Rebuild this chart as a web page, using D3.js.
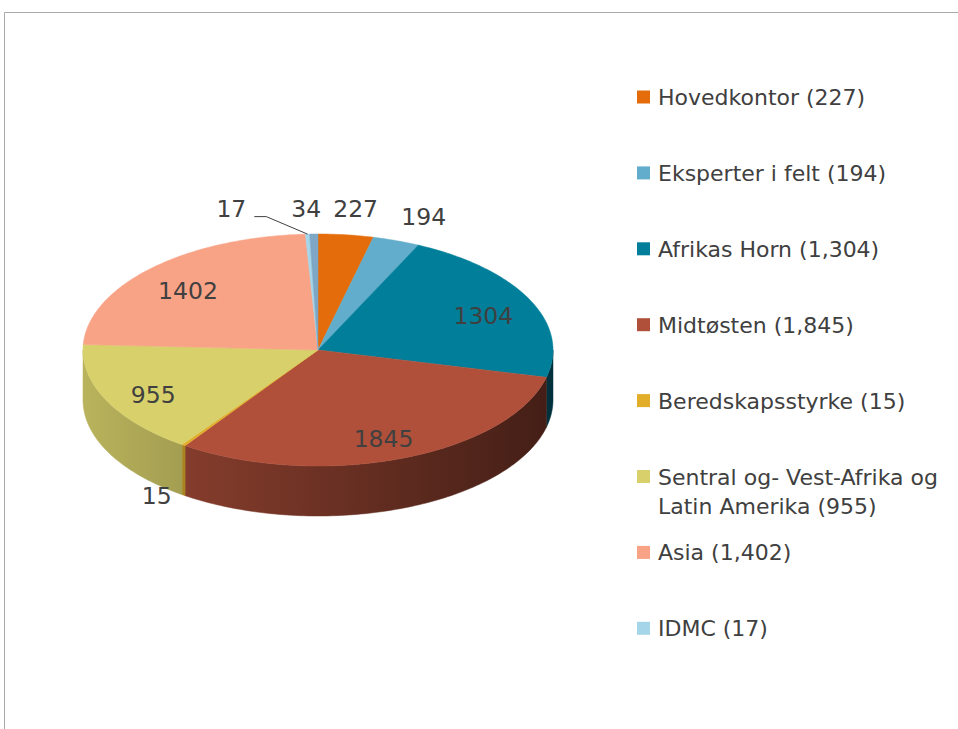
<!DOCTYPE html>
<html>
<head>
<meta charset="utf-8">
<script src="https://cdn.jsdelivr.net/npm/d3@7"></script>
<style>
  body { margin: 0; background: #fff; }
  text { font-family: "DejaVu Sans", sans-serif; fill: #404040; }
</style>
</head>
<body>
<div id="chart"></div>
<script>
// Slices, clockwise from 12 o'clock (the last slice has no legend entry)
const categories = ["Hovedkontor", "Eksperter i felt", "Afrikas Horn", "Midtøsten", "Beredskapsstyrke",
  "Sentral og- Vest-Afrika og Latin Amerika", "Asia", "IDMC", ""];
const values = [227, 194, 1304, 1845, 15, 955, 1402, 17, 34];
const colors = ["#e46c0a", "#62adcb", "#017f9a", "#b0503a", "#e2ae2a", "#d7d06b", "#f9a386", "#a5d5e8", "#7da7c4"];

const W = 958, H = 729;
const cx = 318, cy = 350, rx = 235, ry = 116, depth = 50;

const svg = d3.select("#chart").append("svg")
  .attr("width", W)
  .attr("height", H);

// frame (only top and left edges are inside the picture)
svg.append("path")
  .attr("d", `M4.5,${H} V12.5 H${W}`)
  .attr("fill", "none")
  .attr("stroke", "#a9a9a9");

const data = categories.map((c, i) => ({ name: c, value: values[i], color: colors[i] }));
const total = d3.sum(values);
const arcs = d3.pie().sort(null).value(d => d.value)
  .startAngle(0).endAngle(2 * Math.PI)(data);

// point on the tilted ellipse, angle clockwise from top
const pt = (a, k = 1, dy = 0) => [cx + rx * k * Math.sin(a), cy - ry * k * Math.cos(a) + dy];
function arcPoints(a0, a1, dy = 0) {
  const n = Math.max(2, Math.ceil((a1 - a0) / (Math.PI / 180)) + 1);
  return d3.range(n).map(i => pt(a0 + (a1 - a0) * i / (n - 1), 1, dy));
}
const line = d3.line();

// side shading: lighter on the left, darker on the right
const defs = svg.append("defs");
arcs.forEach((d, i) => {
  const base = d3.rgb(d.data.color);
  const g = defs.append("linearGradient")
    .attr("id", "side" + i)
    .attr("gradientUnits", "userSpaceOnUse")
    .attr("x1", cx - rx).attr("x2", cx + rx)
    .attr("y1", 0).attr("y2", 0);
  [[0, 0.86], [1, 0.38]].forEach(([o, k]) => {
    g.append("stop")
      .attr("offset", o)
      .attr("stop-color", d3.rgb(base.r * k, base.g * k, base.b * k).formatHex());
  });
});

// side walls (front half only)
svg.append("g").selectAll("path")
  .data(arcs)
  .enter()
  .append("path")
  .attr("d", d => {
    const s = Math.max(d.startAngle, Math.PI / 2), e = Math.min(d.endAngle, 3 * Math.PI / 2);
    if (s >= e) return null;
    return line([...arcPoints(s, e), ...arcPoints(s, e, depth).reverse()]) + "Z";
  })
  .attr("fill", (d, i) => `url(#side${i})`)
  .attr("stroke", (d, i) => `url(#side${i})`)
  .attr("stroke-width", 0.5);

// top faces
svg.append("g").selectAll("path")
  .data(arcs)
  .enter()
  .append("path")
  .attr("d", d => line([[cx, cy], ...arcPoints(d.startAngle, d.endAngle)]) + "Z")
  .attr("fill", d => d.data.color)
  .attr("stroke", d => d.data.color)
  .attr("stroke-width", 0.5);

// data labels
const labelG = svg.append("g");
const labels = arcs.map(d => {
  const mid = (d.startAngle + d.endAngle) / 2;
  const inside = d.value / total > 0.1;
  const back = Math.cos(mid) > 0;
  let x, y;
  if (inside) {
    [x, y] = pt(mid, 0.78, 5);
  } else {
    x = cx + rx * (back ? 1.35 : 1.2) * Math.sin(mid);
    y = cy - ry * (back ? 1.22 : 1.17) * Math.cos(mid) + (back ? 0 : depth * 0.7);
  }
  const t = labelG.append("text")
    .attr("text-anchor", "middle")
    .attr("dominant-baseline", "central")
    .attr("font-size", "23.5px")
    .text(d.value);
  return { d, mid, inside, back, x, y, t, w: t.node().getComputedTextLength(), leader: false };
});

// push crowded labels at the top to the left
const topLabels = labels.filter(l => !l.inside && l.back).sort((a, b) => b.x - a.x);
for (let i = 1; i < topLabels.length; i++) {
  const prev = topLabels[i - 1], cur = topLabels[i];
  const limit = prev.x - prev.w / 2 - 12;
  const shift = cur.x + cur.w / 2 - limit;
  if (shift > cur.w / 2) {
    cur.x = prev.x - prev.w / 2 - 45 - cur.w / 2;
    cur.leader = true;
  } else if (shift > 0) {
    cur.x -= shift;
  }
}

labels.forEach(l => {
  l.t.attr("x", l.x).attr("y", l.y);
  if (l.leader) {
    const x0 = l.x + l.w / 2 + 8, y0 = l.y + 8;
    labelG.append("path")
      .attr("d", d3.line()([[x0, y0], [x0 + 12, y0], pt(l.mid, 1)]))
      .attr("fill", "none")
      .attr("stroke", "#404040")
      .attr("stroke-width", 1);
  }
});

// legend
const legendData = data.filter(d => d.name !== "");
const legendX = 637, legendY = 97, legendStep = 75.9, lineH = 29, maxW = 292;
const legend = svg.append("g");
legendData.forEach((d, i) => {
  const y = legendY + i * legendStep;
  legend.append("rect")
    .attr("x", legendX).attr("y", y - 6.5)
    .attr("width", 13).attr("height", 13)
    .attr("fill", d.color);
  const t = legend.append("text")
    .attr("x", legendX + 21)
    .attr("y", y)
    .attr("dominant-baseline", "central")
    .attr("font-size", "22px");
  const words = `${d.name} (${d3.format(",")(d.value)})`.split(" ");
  let lineNo = 0, cur = [];
  let span = t.append("tspan").attr("x", legendX + 21).attr("y", y);
  words.forEach(w => {
    cur.push(w);
    span.text(cur.join(" "));
    if (span.node().getComputedTextLength() > maxW && cur.length > 1) {
      cur.pop();
      span.text(cur.join(" "));
      cur = [w];
      lineNo++;
      span = t.append("tspan").attr("x", legendX + 21).attr("y", y + lineNo * lineH).text(w);
    }
  });
});
</script>
</body>
</html>
